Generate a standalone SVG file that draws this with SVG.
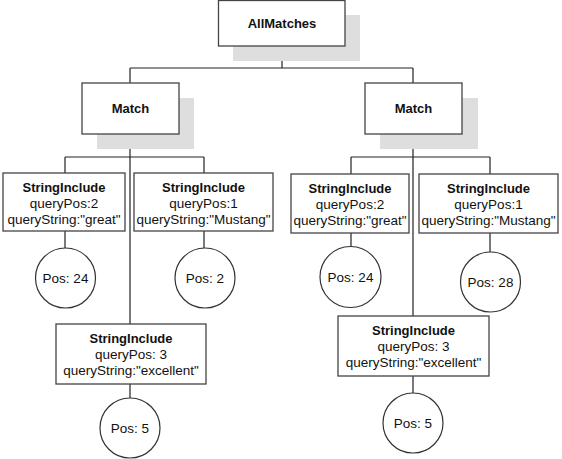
<svg xmlns="http://www.w3.org/2000/svg" width="562" height="459" viewBox="0 0 562 459">
<style>
.bg{fill:#ffffff}
.shadow{fill:#dedede}
.box{fill:#ffffff;stroke:#444444;stroke-width:1.3}
.circ{fill:#ffffff;stroke:#333333;stroke-width:1.2}
.edge{fill:none;stroke:#222222;stroke-width:1.2}
.t{font-family:"Liberation Sans",Arial,sans-serif;font-size:13.5px;fill:#111111;text-anchor:middle}
.b{font-family:"Liberation Sans",Arial,sans-serif;font-size:13px;font-weight:bold;fill:#111111;text-anchor:middle}
</style>
<rect class="bg" x="0" y="0" width="562" height="459"/>
<g id="connectors">
  <path class="edge" d="M282,46 V68 M130,68 H413 M130,68 V83 M413,68 V83"/>
  <path class="edge" d="M130,134 V324 M65,157 H204 M65,157 V173 M204,157 V173"/>
  <path class="edge" d="M413,134 V316 M351,157 H490 M351,157 V174 M490,157 V174"/>
  <path class="edge" d="M65,231 V248 M204,231 V248 M130,384 V398"/>
  <path class="edge" d="M351,233 V247 M490,233 V252 M413,376 V393"/>
</g>
<g id="allmatches">
  <rect class="shadow" x="233" y="15" width="127" height="46"/>
  <rect class="box" x="218.5" y="0.5" width="126.5" height="45.5"/>
  <text class="b" x="282" y="28">AllMatches</text>
</g>
<g id="match-left">
  <rect class="shadow" x="97" y="98" width="97" height="51"/>
  <rect class="box" x="82" y="83" width="97" height="51"/>
  <text class="b" x="130.5" y="113">Match</text>
</g>
<g id="match-right">
  <rect class="shadow" x="380" y="98" width="98" height="51"/>
  <rect class="box" x="365" y="83" width="97" height="51"/>
  <text class="b" x="413.5" y="113">Match</text>
</g>
<g id="si-l1">
  <rect class="box" x="3" y="173" width="122" height="58"/>
  <text class="b" x="64" y="192">StringInclude</text>
  <text class="t" x="64" y="208">queryPos:2</text>
  <text class="t" x="64" y="224">queryString:"great"</text>
</g>
<g id="si-l2">
  <rect class="box" x="134" y="173" width="139" height="58"/>
  <text class="b" x="203.5" y="192">StringInclude</text>
  <text class="t" x="203.5" y="208">queryPos:1</text>
  <text class="t" x="203.5" y="224">queryString:"Mustang"</text>
</g>
<g id="si-l3">
  <rect class="box" x="56" y="324" width="150" height="60"/>
  <text class="b" x="131" y="343">StringInclude</text>
  <text class="t" x="131" y="359">queryPos: 3</text>
  <text class="t" x="131" y="375">queryString:"excellent"</text>
</g>
<g id="si-r1">
  <rect class="box" x="291" y="174" width="118" height="59"/>
  <text class="b" x="350" y="193">StringInclude</text>
  <text class="t" x="350" y="209">queryPos:2</text>
  <text class="t" x="350" y="225">queryString:"great"</text>
</g>
<g id="si-r2">
  <rect class="box" x="419" y="174" width="139" height="59"/>
  <text class="b" x="488.5" y="193">StringInclude</text>
  <text class="t" x="488.5" y="209">queryPos:1</text>
  <text class="t" x="488.5" y="225">queryString:"Mustang"</text>
</g>
<g id="si-r3">
  <rect class="box" x="338" y="316" width="151" height="60"/>
  <text class="b" x="413.5" y="335">StringInclude</text>
  <text class="t" x="413.5" y="351">queryPos: 3</text>
  <text class="t" x="413.5" y="367">queryString:"excellent"</text>
</g>
<g id="pos-l1">
  <circle class="circ" cx="65.5" cy="278" r="30"/>
  <text class="t" x="65.5" y="283">Pos: 24</text>
</g>
<g id="pos-l2">
  <circle class="circ" cx="205" cy="278" r="30"/>
  <text class="t" x="205" y="283">Pos: 2</text>
</g>
<g id="pos-l3">
  <circle class="circ" cx="130" cy="428" r="30"/>
  <text class="t" x="130" y="433">Pos: 5</text>
</g>
<g id="pos-r1">
  <circle class="circ" cx="350.5" cy="277" r="30.5"/>
  <text class="t" x="350.5" y="282">Pos: 24</text>
</g>
<g id="pos-r2">
  <circle class="circ" cx="490.5" cy="282" r="30"/>
  <text class="t" x="490.5" y="287">Pos: 28</text>
</g>
<g id="pos-r3">
  <circle class="circ" cx="413" cy="423" r="30"/>
  <text class="t" x="413" y="428">Pos: 5</text>
</g>
</svg>
